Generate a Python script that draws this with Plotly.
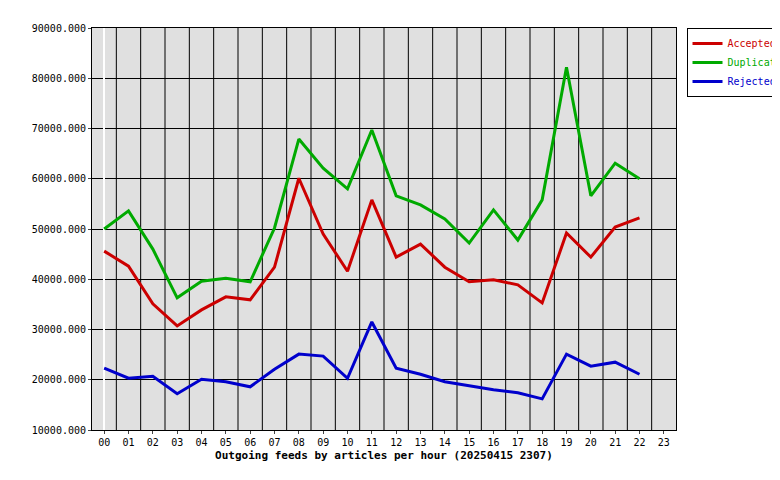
import plotly.graph_objs as go

hours = ["%02d" % h for h in range(24)]
accepted = [45600, 42600, 35100, 30700, 33900, 36500, 35900, 42400, 60100, 49000, 41600, 55800,
            44400, 47000, 42400, 39500, 39900, 38900, 35300, 49200, 44400, 50400, 52200]
duplicates = [50000, 53600, 46000, 36300, 39600, 40200, 39500, 50200, 67900, 62100, 58000, 69700,
              56600, 54800, 52000, 47200, 53800, 47800, 55800, 82200, 56600, 63100, 60000]
rejected = [22300, 20300, 20700, 17200, 20100, 19600, 18600, 22100, 25100, 24700, 20300, 31500,
            22300, 21100, 19600, 18800, 18000, 17400, 16200, 25100, 22700, 23500, 21100]
yticks = list(range(10000, 90001, 10000))

fig = go.Figure()
for name, vals, col in [("Accepted", accepted, "#cc0000"), ("Duplicates", duplicates, "#00aa00"),
                        ("Rejected", rejected, "#0000cc")]:
    fig.add_trace(go.Scatter(x=list(range(len(vals))), y=vals,
                             name='<span style="color:%s">%s</span>' % (col, name), mode="lines",
                             line=dict(color=col, width=3)))

fig.update_layout(
    width=780, height=480, paper_bgcolor="white", plot_bgcolor="#e0e0e0",
    margin=dict(l=84, r=112, t=20, b=58, autoexpand=False),
    font=dict(family="DejaVu Sans Mono", size=10, color="black"),
    showlegend=True,
    legend=dict(x=1.018, y=1.0, xanchor="left", yanchor="top", bordercolor="black", borderwidth=1,
                bgcolor="white", font=dict(size=10), itemwidth=30, tracegroupgap=0),
    xaxis=dict(range=[-0.5, 23.5], tickvals=list(range(24)), ticktext=hours, showgrid=False,
               showline=True, linecolor="black", mirror=True, ticks="outside", ticklen=3,
               automargin=False,
               title=dict(text="<b>Outgoing feeds by articles per hour (20250415 2307)</b>",
                          font=dict(size=11), standoff=4)),
    yaxis=dict(range=[10000, 90000], tickvals=yticks, ticktext=["%d.000" % v for v in yticks],
               showgrid=True, gridcolor="black", gridwidth=1, showline=True, linecolor="black",
               mirror=True, ticks="outside", ticklen=3, zeroline=False, automargin=False),
)
for i in range(1, 24):
    fig.add_shape(type="line", xref="x", yref="paper", x0=i - 0.5, x1=i - 0.5, y0=0, y1=1,
                  line=dict(color="black", width=1), layer="below")
fig.write_html("out.html")
